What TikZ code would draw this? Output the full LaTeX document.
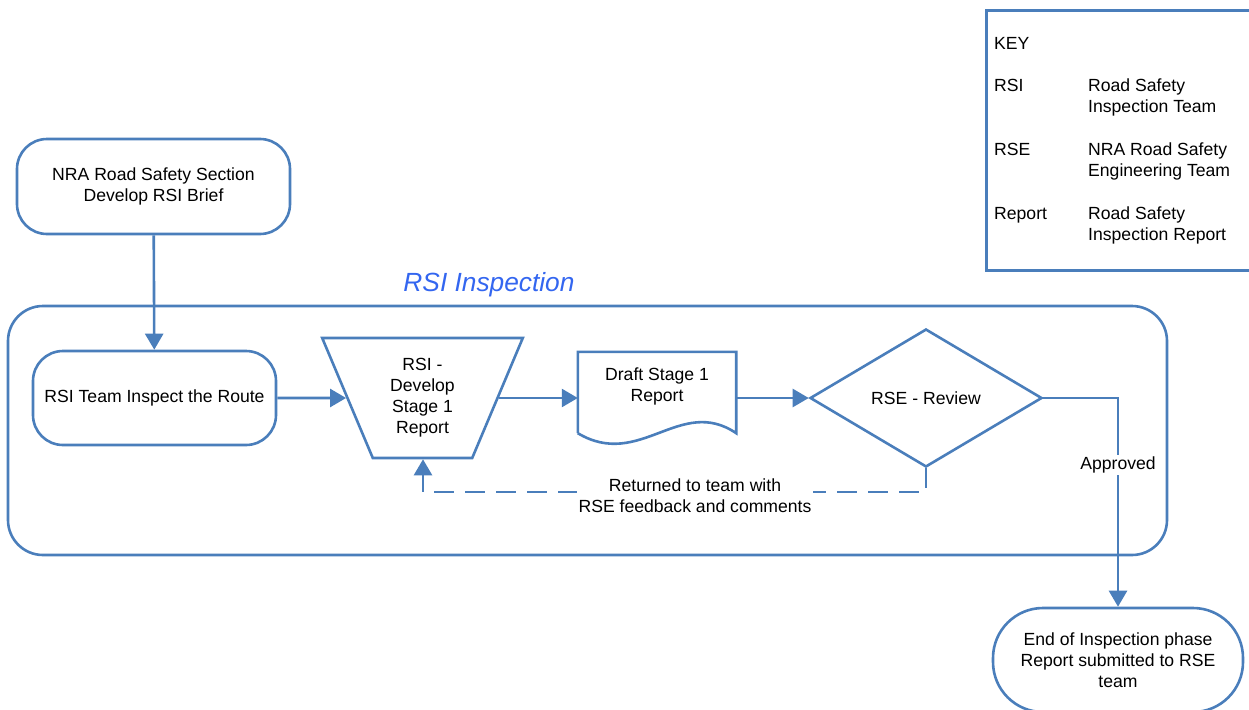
\documentclass[tikz,border=0pt]{standalone}
\usepackage{fontspec}
\setmainfont{Liberation Sans}
\usetikzlibrary{shapes.geometric,arrows.meta,calc}
\definecolor{lineblue}{HTML}{4A7EBB}
\definecolor{titleblue}{HTML}{3366F0}
\begin{document}
\begin{tikzpicture}[x=1pt,y=-1pt,
  every node/.style={font=\fontsize{17.6}{21}\selectfont, inner sep=0pt},
  ln/.style={draw=lineblue, line width=2.6pt},
  arr/.style={ln, -{Triangle[length=16pt,width=18pt]}},
  roundbox/.style={ln, rectangle, rounded corners=30pt, align=center},
  trapbox/.style={ln, trapezium, trapezium stretches=true, shape border rotate=180,
    trapezium left angle=67.4, trapezium right angle=67.4, align=center},
  decbox/.style={ln, diamond, align=center},
  lbl/.style={fill=white, align=center, inner sep=2pt},
  keytext/.style={align=left}]
\useasboundingbox (0,0) rectangle (1249,709);
\begin{scope}
\clip (0,0) rectangle (1249,709);
% container
\node[ln, rectangle, rounded corners=35pt, minimum width=1159pt, minimum height=249pt] (container) at (587.5,430.5) {};
\node[font=\fontsize{26.3}{30}\selectfont\itshape, text=titleblue] (title) at (489,285) {RSI Inspection};
% key
\node[ln, rectangle, minimum width=290pt, minimum height=260pt, anchor=north west] (keybox) at (985,9) {};
\node[keytext, anchor=base west] (k0) at (994,49.5) {KEY};
\node[keytext, anchor=base west] (k1) at (994,91.5) {RSI};
\node[keytext, anchor=base west] (k2) at (994,155.5) {RSE};
\node[keytext, anchor=base west] (k3) at (994,219.5) {Report};
\node[keytext, anchor=west] (d1) at (1088,97) {Road Safety\\Inspection Team};
\node[keytext, anchor=west] (d2) at (1088,161) {NRA Road Safety\\Engineering Team};
\node[keytext, anchor=west] (d3) at (1088,225) {Road Safety\\Inspection Report};
% flow
\node[roundbox, minimum width=273pt, minimum height=95pt] (brief) at (153.5,186.5) {NRA Road Safety Section\\Develop RSI Brief};
\node[roundbox, minimum width=243pt, minimum height=94pt] (inspect) at (154.5,398) {RSI Team Inspect the Route};
\node[trapbox, minimum width=201pt, minimum height=120pt] (trap) at (422.5,398) {RSI -\\Develop\\Stage 1\\Report};
\node[minimum width=158pt, minimum height=81pt] (doc) at (657,392.5) {};
\node[align=center] (doctext) at (657,386.5) {Draft Stage 1\\Report};
\draw[ln] (doc.south west) -- (doc.north west) -- (doc.north east) -- (doc.south east)
  .. controls +(-56,-38) and +(62,37) .. (doc.south west);
\node[decbox, minimum width=232pt, minimum height=138pt] (review) at (926,398) {RSE - Review};
\node[roundbox, rounded corners=50pt, minimum width=250pt, minimum height=104pt] (endn) at (1118,660) {End of Inspection phase\\Report submitted to RSE\\team};
% connectors
\draw[arr] (brief) -- (inspect);
\draw[arr] (inspect.east) -- (trap.west);
\draw[arr] (trap.east) -- (doc.west |- trap.east);
\draw[arr] (doc.east |- review.west) -- (review.west);
\coordinate (turn) at (1118,398);
\draw[arr] (review.east) -- (turn) -- (endn.north) node[lbl, pos=0.32] (appr) {Approved};
\coordinate (fbR) at (926,492);
\coordinate (fbL) at (423,492);
\draw[arr, dash pattern=on 20pt off 11pt] (review.south) -- (fbR) -- (fbL) -- (trap.south -| fbL);
\node[lbl] (fbl) at (695,496) {Returned to team with\\RSE feedback and comments};
\end{scope}
\end{tikzpicture}
\end{document}
